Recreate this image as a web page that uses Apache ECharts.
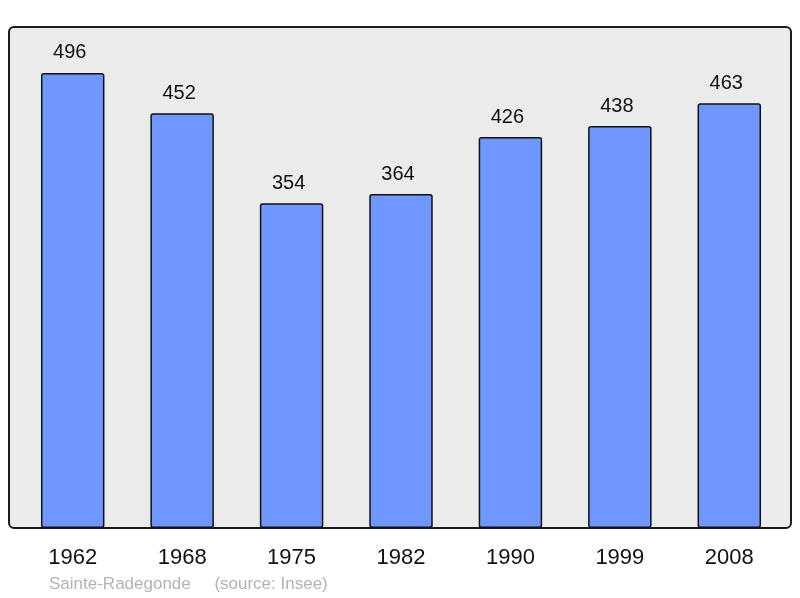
<!DOCTYPE html>
<html><head><meta charset="utf-8">
<script src="https://cdn.jsdelivr.net/npm/echarts@6/dist/echarts.min.js"></script>
<style>html,body{margin:0;padding:0;background:#fff}#c{width:800px;height:598px}</style>
</head><body><div id="c"></div>
<script>
const years = ['1962','1968','1975','1982','1990','1999','2008'];
const population = [496,452,354,364,426,438,463];
const footer = 'Sainte-Radegonde     (source: Insee)';

const chart = echarts.init(document.getElementById('c'), null, {renderer:'canvas'});
chart.setOption({
  animation:false,
  backgroundColor:'#ffffff',
  graphic:[
    {type:'rect', z:-10, shape:{x:9,y:27,width:782,height:501,r:5},
     style:{fill:'#ebebeb', stroke:'#1a1a1a', lineWidth:2}},
    {type:'text', left:49, top:576, style:{text:footer, fill:'#b3b3b3', font:'17px "Liberation Sans", Arial, sans-serif'}}
  ],
  grid:{left:18, right:16, top:27, bottom:70},
  xAxis:{type:'category', data:years,
    axisLine:{show:false}, axisTick:{show:false},
    axisLabel:{fontSize:22, color:'#111', fontFamily:'"Liberation Sans", Arial, sans-serif', margin:19}},
  yAxis:{type:'value', min:0, max:546, show:false, splitLine:{show:false}},
  series:[{type:'bar', data:population, barWidth:'58%',
    itemStyle:{color:'#7096ff', borderColor:'#111', borderWidth:1.5, borderRadius:2},
    label:{show:true, position:'top', distance:10, offset:[-3,0], fontSize:20, color:'#111',
      fontFamily:'"Liberation Sans", Arial, sans-serif'}}]
});
</script></body></html>
